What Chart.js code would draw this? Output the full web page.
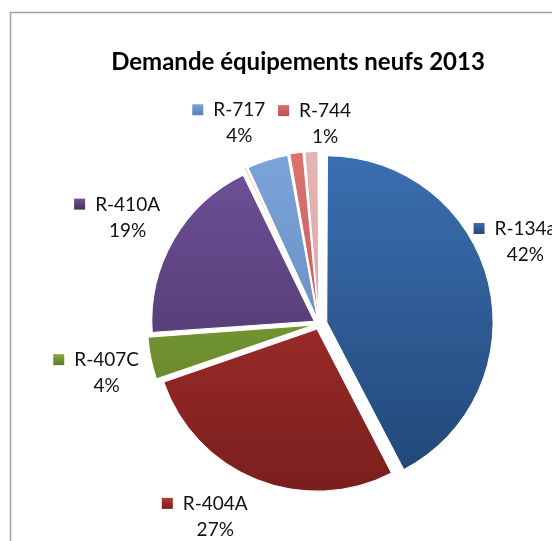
<!DOCTYPE html>
<html>
<head>
<meta charset="utf-8">
<script src="https://cdn.jsdelivr.net/npm/chart.js@4.4.1/dist/chart.umd.min.js"></script>
<style>
  html, body { margin: 0; padding: 0; background: #fff; overflow: hidden; }
  canvas { display: block; }
</style>
</head>
<body>
<canvas id="myChart" width="600" height="600"></canvas>
<script>
// Demande équipements neufs 2013 (parts en %)
const categories = ['R-134a', 'R-404A', 'R-407C', 'R-410A', 'R-290', 'R-717', 'R-744', 'Autres'];
const shares = [42.4, 27.3, 4.2, 18.9, 0.3, 4.1, 1.4, 1.4];
const topColors = ['#3a6eb1', '#b73532', '#86ac3e', '#6f5099', '#f79646', '#7ca3d9', '#da726f', '#e4b4b3'];
const bottomColors = ['#214676', '#791f1d', '#5c7b26', '#45305e', '#e9802e', '#5a7eb2', '#b9504d', '#d39b9a'];
const noLabel = ['R-290', 'Autres'];

const chartTitle = 'Demande équipements neufs 2013';

// dégradé vertical sur toute la hauteur du camembert
function sliceFill(c) {
    const i = c.dataIndex;
    const chart = c.chart;
    const area = chart.chartArea;
    if (!area || i === undefined) return topColors[0];
    const ctrl = chart.getDatasetMeta(0).controller;
    const r = ctrl.outerRadius || 162;
    const cy = (area.top + area.bottom) / 2;
    const g = chart.ctx.createLinearGradient(0, cy - r, 0, cy + r);
    g.addColorStop(0, topColors[i]);
    g.addColorStop(1, bottomColors[i]);
    return g;
}

const excelLook = {
    id: 'excelLook',
    beforeDraw(chart) {
        const ctx = chart.ctx;
        ctx.save();
        ctx.strokeStyle = '#9f9f9f';
        ctx.lineWidth = 1.5;
        ctx.strokeRect(10.5, 12.5, 800, 800);
        ctx.restore();
    },
    afterDraw(chart, args, opts) {
        const ctx = chart.ctx;
        const meta = chart.getDatasetMeta(0);
        const total = shares.reduce((a, b) => a + b, 0);
        ctx.save();
        // titre
        ctx.fillStyle = '#000';
        ctx.font = 'bold 24px Lato';
        ctx.textAlign = 'center';
        ctx.textBaseline = 'middle';
        ctx.fillText(chartTitle, opts.titleX, opts.titleY);

        ctx.font = '19px Lato';
        meta.data.forEach((arc, i) => {
            const name = categories[i];
            if (noLabel.includes(name)) return;
            const p = opts.place[name] || {turn: 0, extra: 0};
            const mid = (arc.startAngle + arc.endAngle) / 2 + p.turn * Math.PI / 180;
            const d = arc.outerRadius + opts.gap + p.extra;
            const x = arc.x + Math.cos(mid) * d;
            const y = arc.y + Math.sin(mid) * d;
            const w = ctx.measureText(name).width;
            ctx.fillStyle = '#111';
            ctx.fillText(name, x, y - 13);
            ctx.fillText(Math.round(shares[i] / total * 100) + '%', x, y + 13);
            const kx = x - w / 2 - 21, ky = y - 19;
            const g = ctx.createLinearGradient(0, ky, 0, ky + 11);
            g.addColorStop(0, topColors[i]);
            g.addColorStop(1, bottomColors[i]);
            ctx.fillStyle = g;
            ctx.fillRect(kx, ky, 11, 11);
        });
        ctx.restore();
    }
};

new Chart('myChart', {
    type: 'pie',
    data: {
        labels: categories,
        datasets: [{
            data: shares,
            backgroundColor: sliceFill,
            borderColor: '#ffffff',
            borderWidth: 1,
            // chart.js v4 divise l'offset par 4
            offset: [32, 22, 22, 22, 22, 22, 22, 22],
        }],
    },
    options: {
        responsive: false,
        animation: false,
        radius: 162,
        layout: { padding: { left: 38, right: 0, top: 48, bottom: 0 } },
        plugins: {
            legend: { display: false },
            title: { display: false },
            tooltip: { enabled: false },
            excelLook: {
                titleX: 298,
                titleY: 62,
                gap: 56,
                place: {
                    'R-134a': { turn: -8, extra: 4 },
                    'R-404A': { turn: 6.5, extra: 1 },
                    'R-407C': { turn: -1.5, extra: 0 },
                    'R-410A': { turn: -1, extra: 1 },
                    'R-717': { turn: -4.2, extra: -2 },
                    'R-744': { turn: 9.3, extra: -18 },
                },
            },
        },
    },
    plugins: [excelLook],
});
</script>
</body>
</html>
